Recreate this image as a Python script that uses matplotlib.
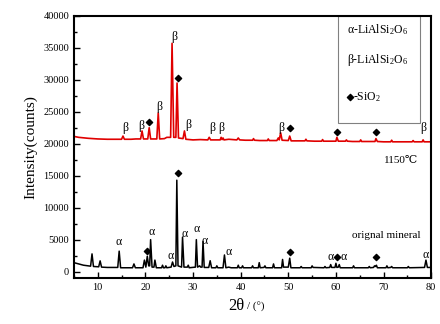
import matplotlib
matplotlib.use("Agg")
import numpy as np
from matplotlib import pyplot as plt
from matplotlib.patches import Rectangle
from matplotlib.ticker import MultipleLocator

plt.rcParams["font.family"] = ["Liberation Serif", "DejaVu Serif"]
plt.rcParams["mathtext.fontset"] = "stix"

# 1150 C sample trace, digitised (2theta, counts)
red_2theta = [5.0, 6.0, 8.0, 10.0, 12.0, 13.5, 15.0, 15.3, 15.6, 17.0, 18.0, 19.0, 19.3, 19.6,
              20.5, 20.8, 21.1, 22.4, 22.7, 23.0, 24.0, 24.5, 25.3, 25.6, 25.95, 26.4, 26.65,
              26.95, 27.9, 28.2, 28.5, 30.0, 31.5, 33.1, 33.4, 33.7, 35.7, 35.9, 36.1, 36.3,
              36.5, 37.5, 39.2, 39.5, 39.8, 41.0, 42.5, 42.7, 42.9, 44.0, 45.6, 45.8, 46.0,
              47.0, 47.6, 47.9, 48.1, 48.4, 48.7, 50.0, 50.3, 50.6, 52.0, 53.5, 53.7, 53.9,
              55.5, 57.0, 57.2, 57.4, 60.0, 60.2, 60.5, 62.0, 62.2, 62.4, 63.5, 65.0, 65.2,
              65.4, 67.0, 68.2, 68.4, 68.7, 70.0, 71.5, 71.7, 71.9, 74.0, 76.0, 76.2, 76.4,
              78.1, 78.3, 78.5, 80.0]
red_counts = [21150, 21000, 20850, 20750, 20700, 20700, 20700, 21200, 20700, 20700, 20750, 20750, 22000, 20750,
              20750, 22500, 20750, 20750, 24800, 20750, 20800, 21000, 21000, 35700, 21000, 21000, 29500,
              20900, 20800, 22000, 20700, 20600, 20650, 20600, 21000, 20600, 20600, 21000, 20650, 20900,
              20600, 20700, 20600, 20900, 20600, 20550, 20550, 20800, 20550, 20500, 20500, 20750, 20500,
              20500, 20500, 20900, 20600, 21700, 20550, 20500, 21200, 20450, 20450, 20450, 20700, 20450,
              20400, 20400, 20650, 20400, 20400, 21000, 20400, 20400, 20600, 20400, 20350, 20350, 20600,
              20350, 20350, 20350, 20800, 20350, 20300, 20300, 20550, 20300, 20300, 20300, 20500, 20300,
              20300, 20600, 20300, 20300]

# original mineral trace, digitised (2theta, counts)
black_2theta = [5.0, 6.0, 7.0, 8.5, 8.8, 9.1, 10.2, 10.5, 10.8, 12.0, 14.2, 14.5, 14.8, 17.3, 17.6,
                17.9, 19.5, 19.8, 20.1, 20.4, 20.7, 20.9, 21.1, 21.4, 21.8, 22.0, 22.3, 23.4, 23.6,
                23.8, 24.1, 24.3, 24.5, 25.4, 25.7, 26.0, 26.4, 26.6, 26.85, 27.6, 27.8, 28.1, 28.8,
                29.0, 29.2, 30.5, 30.7, 30.95, 31.4, 31.6, 31.9, 32.1, 32.35, 33.3, 33.6, 33.9, 34.8,
                35.0, 35.2, 36.3, 36.6, 36.9, 37.5, 38.0, 39.3, 39.5, 39.7, 40.2, 40.4, 40.6, 42.3,
                42.5, 42.7, 43.7, 43.9, 44.1, 44.9, 45.1, 45.3, 46.7, 46.9, 47.1, 48.6, 48.8, 49.0,
                50.0, 50.3, 50.55, 52.5, 52.7, 52.9, 54.8, 55.0, 55.2, 57.5, 57.7, 57.9, 58.7, 58.9,
                59.1, 59.8, 60.0, 60.2, 60.5, 60.7, 60.9, 63.5, 63.7, 63.9, 66.8, 67.0, 67.2, 67.9,
                68.1, 68.3, 68.5, 68.7, 70.5, 70.7, 70.9, 71.5, 71.7, 71.9, 75.0, 75.2, 75.4, 78.6,
                78.9, 79.2, 80.0]
black_counts = [1400, 1200, 1000, 850, 2770, 800, 750, 1680, 700, 650, 650, 3200, 600, 600, 1200,
                600, 600, 1800, 700, 2400, 900, 900, 5000, 700, 700, 1800, 600, 600, 1000,
                600, 600, 900, 600, 700, 1500, 800, 900, 14300, 900, 700, 5400, 700, 700,
                1000, 600, 700, 5000, 700, 900, 700, 700, 4700, 650, 650, 1700, 600, 600,
                900, 600, 600, 2600, 600, 700, 600, 600, 1000, 600, 600, 900, 600, 600,
                900, 600, 600, 1400, 600, 650, 900, 600, 600, 1200, 600, 600, 1900, 700,
                700, 2100, 600, 600, 800, 600, 600, 900, 650, 600, 800, 600, 650, 1100,
                650, 650, 1300, 650, 700, 1100, 600, 600, 900, 600, 600, 800, 600, 650,
                900, 800, 1000, 600, 600, 900, 600, 650, 800, 600, 600, 800, 600, 650,
                1800, 650, 650]

# phase markers: (2theta, counts) of each label
red_beta_x = [15.7, 19.1, 22.9, 26.05, 29.0, 34.05, 35.95, 48.6, 78.3]
red_beta_y = [22500, 22800, 25800, 36700, 22950, 22500, 22500, 22500, 22500]
red_quartz_x = [20.8, 26.9, 50.3, 60.2, 68.4]
red_quartz_y = [23400, 30300, 22500, 21850, 21850]

black_alpha_x = [14.3, 21.4, 25.4, 28.2, 30.7, 32.4, 37.4, 58.9, 61.6, 78.9]
black_alpha_y = [4650, 6200, 2450, 5900, 6650, 4800, 3100, 2300, 2300, 2600]
black_quartz_x = [20.4, 26.9, 50.3, 60.2, 68.4]
black_quartz_y = [3250, 15450, 3100, 2300, 2300]

fig = plt.figure(figsize=(4.4, 3.24), dpi=100)
ax = fig.add_axes([0.168, 0.142, 0.812, 0.809])

ax.plot(red_2theta, red_counts, color="#e00000", linewidth=1.2)
ax.plot(black_2theta, black_counts, color="black", linewidth=1.1)

for x, y in zip(red_beta_x, red_beta_y):
    ax.text(x, y, "β", ha="center", va="center", fontsize=8.5)
for x, y in zip(black_alpha_x, black_alpha_y):
    ax.text(x, y, "α", ha="center", va="center", fontsize=8.5)
ax.scatter(red_quartz_x, red_quartz_y, marker="D", s=10, color="black", zorder=3)
ax.scatter(black_quartz_x, black_quartz_y, marker="D", s=10, color="black", zorder=3)

ax.text(73.6, 17300, "1150℃", ha="center", va="center", fontsize=8)
ax.text(70.5, 5700, "orignal mineral", ha="center", va="center", fontsize=8)

# phase key box in the upper right corner
ax.add_patch(Rectangle((60.4, 23270), 17.2, 16730, fill=False, edgecolor="#808080", linewidth=0.8))
ax.text(62.4, 37800, "α-LiAlSi$_\\mathregular{2}$O$_\\mathregular{6}$", ha="left", va="center", fontsize=8.5)
ax.text(62.4, 33100, "β-LiAlSi$_\\mathregular{2}$O$_\\mathregular{6}$", ha="left", va="center", fontsize=8.5)
ax.scatter([62.9], [27300], marker="D", s=10, color="black", zorder=3)
ax.text(63.5, 27300, "-SiO$_\\mathregular{2}$", ha="left", va="center", fontsize=8.5)

ax.set_xlim(5, 80)
ax.set_ylim(-1000, 40000)
ax.xaxis.set_major_locator(MultipleLocator(10))
ax.xaxis.set_minor_locator(MultipleLocator(5))
ax.yaxis.set_major_locator(MultipleLocator(5000))
ax.yaxis.set_minor_locator(MultipleLocator(2500))
ax.tick_params(which="both", direction="in", labelsize=7.5, width=1.0)
ax.tick_params(which="major", length=4)
ax.tick_params(which="minor", length=2.5)
for spine in ax.spines.values():
    spine.set_linewidth(1.5)

ax.set_ylabel("Intensity(counts)", fontsize=11, labelpad=4)
fig.text(0.555, 0.055, "2θ", fontsize=12, ha="right", va="center")
fig.text(0.562, 0.052, "/ (°)", fontsize=8, ha="left", va="center")

fig.savefig("out.png", dpi=100)
